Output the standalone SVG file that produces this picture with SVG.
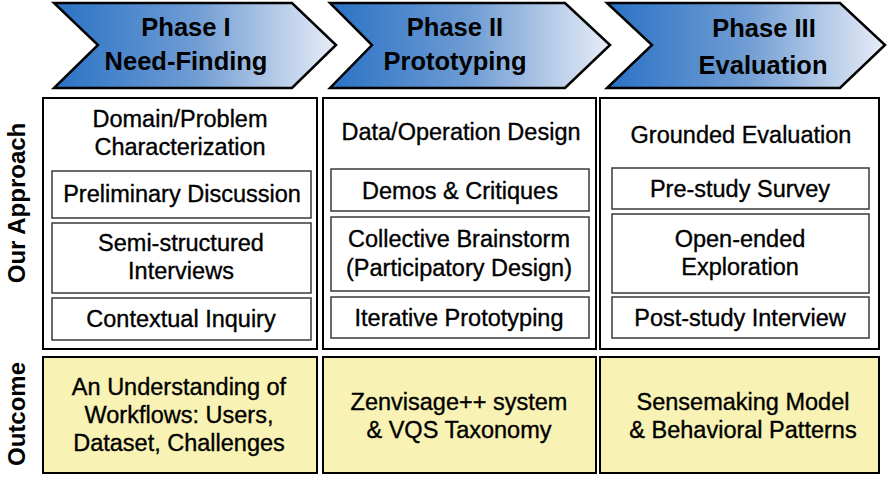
<svg xmlns="http://www.w3.org/2000/svg" width="891" height="483" viewBox="0 0 891 483">
  <defs>
    <linearGradient id="phaseFill" x1="0" y1="0" x2="1" y2="0">
      <stop offset="0" stop-color="#2a72c5"/>
      <stop offset="0.5" stop-color="#6f9cd3"/>
      <stop offset="1" stop-color="#e8edf7"/>
    </linearGradient>
    <style>
      .chev { fill: url(#phaseFill); stroke: #000; stroke-width: 2.5; stroke-linejoin: miter; }
      .phase { font-family: "Liberation Sans", Arial, sans-serif; font-weight: bold; font-size: 25.5px; fill: #000; text-anchor: middle; }
      .col { fill: #fff; stroke: #000; stroke-width: 2; }
      .inner { fill: #fff; stroke: #3a3a3a; stroke-width: 1.5; }
      .out { fill: #f8f2b4; stroke: #000; stroke-width: 2; }
      .t { font-family: "Liberation Sans", Arial, sans-serif; font-size: 23.5px; fill: #000; stroke: #000; stroke-width: 0.35; text-anchor: middle; }
      .side { font-family: "Liberation Sans", Arial, sans-serif; font-weight: bold; font-size: 24px; fill: #000; text-anchor: middle; }
    </style>
  </defs>

  <!-- phase chevrons -->
  <g id="phase1">
    <polygon class="chev" points="54,3 292,3 336,45 292,88 54,88 98,45"/>
    <text class="phase" x="186" y="36">Phase I</text>
    <text class="phase" x="186" y="70">Need-Finding</text>
  </g>
  <g id="phase2">
    <polygon class="chev" points="330,3 565,3 610,45 565,88 330,88 372,45"/>
    <text class="phase" x="455" y="36">Phase II</text>
    <text class="phase" x="455" y="70">Prototyping</text>
  </g>
  <g id="phase3">
    <polygon class="chev" points="607,3 840,3 885,45 840,88 607,88 652,45"/>
    <text class="phase" x="764" y="37">Phase III</text>
    <text class="phase" x="763" y="74">Evaluation</text>
  </g>

  <!-- row labels -->
  <g id="label-approach">
    <text class="side" transform="translate(25,203) rotate(-90)">Our Approach</text>
  </g>
  <g id="label-outcome">
    <text class="side" transform="translate(25,414) rotate(-90)">Outcome</text>
  </g>

  <!-- approach column: need-finding -->
  <g id="approach1">
    <rect class="col" x="43" y="98" width="274" height="251"/>
    <text class="t" x="180" y="127">Domain/Problem</text>
    <text class="t" x="180" y="155">Characterization</text>
  </g>
  <g id="prelim">
    <rect class="inner" x="52" y="171" width="259" height="47"/>
    <text class="t" x="182" y="202">Preliminary Discussion</text>
  </g>
  <g id="interviews">
    <rect class="inner" x="52" y="223" width="259" height="70"/>
    <text class="t" x="181" y="251">Semi-structured</text>
    <text class="t" x="181" y="279">Interviews</text>
  </g>
  <g id="inquiry">
    <rect class="inner" x="52" y="298" width="259" height="42"/>
    <text class="t" x="181" y="327">Contextual Inquiry</text>
  </g>

  <!-- approach column: prototyping -->
  <g id="approach2">
    <rect class="col" x="323" y="98" width="273" height="251"/>
    <text class="t" x="461" y="140">Data/Operation Design</text>
  </g>
  <g id="demos">
    <rect class="inner" x="331" y="169" width="258" height="42"/>
    <text class="t" x="460" y="199">Demos &amp; Critiques</text>
  </g>
  <g id="brainstorm">
    <rect class="inner" x="331" y="217" width="258" height="74"/>
    <text class="t" x="459" y="247">Collective Brainstorm</text>
    <text class="t" x="459" y="276">(Participatory Design)</text>
  </g>
  <g id="iterative">
    <rect class="inner" x="331" y="297" width="258" height="41"/>
    <text class="t" x="459" y="326">Iterative Prototyping</text>
  </g>

  <!-- approach column: evaluation -->
  <g id="approach3">
    <rect class="col" x="600" y="98" width="279" height="251"/>
    <text class="t" x="741" y="143">Grounded Evaluation</text>
  </g>
  <g id="prestudy">
    <rect class="inner" x="612" y="168" width="257" height="41"/>
    <text class="t" x="740" y="197">Pre-study Survey</text>
  </g>
  <g id="openended">
    <rect class="inner" x="612" y="214" width="257" height="79"/>
    <text class="t" x="740" y="247">Open-ended</text>
    <text class="t" x="740" y="275">Exploration</text>
  </g>
  <g id="poststudy">
    <rect class="inner" x="612" y="297" width="257" height="41"/>
    <text class="t" x="740" y="326">Post-study Interview</text>
  </g>

  <!-- outcomes -->
  <g id="outcome1">
    <rect class="out" x="43" y="357" width="274" height="116"/>
    <text class="t" x="179" y="395">An Understanding of</text>
    <text class="t" x="179" y="423">Workflows: Users,</text>
    <text class="t" x="179" y="451">Dataset, Challenges</text>
  </g>
  <g id="outcome2">
    <rect class="out" x="323" y="357" width="273" height="116"/>
    <text class="t" x="459" y="410">Zenvisage++ system</text>
    <text class="t" x="459" y="438">&amp; VQS Taxonomy</text>
  </g>
  <g id="outcome3">
    <rect class="out" x="600" y="357" width="279" height="116"/>
    <text class="t" x="743" y="410">Sensemaking Model</text>
    <text class="t" x="743" y="438">&amp; Behavioral Patterns</text>
  </g>

  <!-- no connectors in this figure -->
  <g id="connectors"/>
</svg>
